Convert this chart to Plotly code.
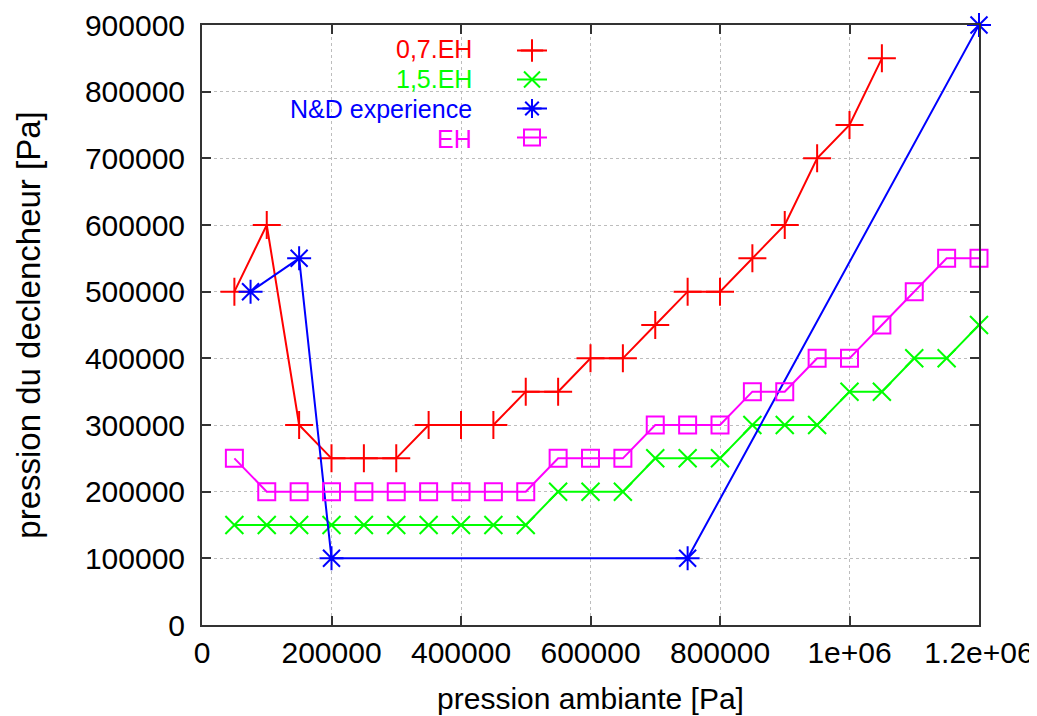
import plotly.graph_objects as go

# ---- data ----
red_x = [50000, 100000, 150000, 200000, 250000, 300000, 350000, 400000, 450000, 500000,
         550000, 600000, 650000, 700000, 750000, 800000, 850000, 900000, 950000, 1000000, 1050000]
red_y = [500000, 600000, 300000, 250000, 250000, 250000, 300000, 300000, 300000, 350000,
         350000, 400000, 400000, 450000, 500000, 500000, 550000, 600000, 700000, 750000, 850000]

green_x = [50000, 100000, 150000, 200000, 250000, 300000, 350000, 400000, 450000, 500000,
           550000, 600000, 650000, 700000, 750000, 800000, 850000, 900000, 950000, 1000000,
           1050000, 1100000, 1150000, 1200000]
green_y = [150000, 150000, 150000, 150000, 150000, 150000, 150000, 150000, 150000, 150000,
           200000, 200000, 200000, 250000, 250000, 250000, 300000, 300000, 300000, 350000,
           350000, 400000, 400000, 450000]

blue_x = [75000, 150000, 200000, 750000, 1200000]
blue_y = [500000, 550000, 100000, 100000, 900000]

mag_x = [50000, 100000, 150000, 200000, 250000, 300000, 350000, 400000, 450000, 500000,
         550000, 600000, 650000, 700000, 750000, 800000, 850000, 900000, 950000, 1000000,
         1050000, 1100000, 1150000, 1200000]
mag_y = [250000, 200000, 200000, 200000, 200000, 200000, 200000, 200000, 200000, 200000,
         250000, 250000, 250000, 300000, 300000, 300000, 350000, 350000, 400000, 400000,
         450000, 500000, 550000, 550000]

series_names = ["0,7.EH", "1,5.EH", "N&D experience", "EH"]
series_colors = ["#ff0000", "#00ff00", "#0000ff", "#ff00ff"]
series_symbols = ["cross-thin-open", "x-thin-open", "asterisk-open", "square-open"]
series_sizes = [20, 18, 20, 17]
series_data = [(red_x, red_y), (green_x, green_y), (blue_x, blue_y), (mag_x, mag_y)]

x_tickvals = [0, 200000, 400000, 600000, 800000, 1000000, 1200000]
x_ticktext = ["0", "200000", "400000", "600000", "800000", "1e+06", "1.2e+06"]
y_tickvals = [0, 100000, 200000, 300000, 400000, 500000, 600000, 700000, 800000, 900000]
y_ticktext = [str(v) for v in y_tickvals]

FONT = "Liberation Sans, Arial, Helvetica, sans-serif"
FS = 30

fig = go.Figure()
for name, col, sym, sz, (xs, ys) in zip(series_names, series_colors, series_symbols,
                                         series_sizes, series_data):
    fig.add_trace(go.Scatter(
        x=xs, y=ys, mode="lines+markers", name=" ",
        line=dict(color=col, width=2),
        marker=dict(symbol=sym, size=sz, color=col, line=dict(color=col, width=2)),
        cliponaxis=False,
    ))

# page body has an 8px margin; figure sized to fit the window
OFF = 8
W, H = 1037 - OFF, 716 - OFF
L, T = 202 - OFF, 25 - OFF
R = W - (979 - OFF)
B = H - (625 - OFF)
pw, ph = W - L - R, H - T - B

def px_x(p):  # p in screenshot pixels
    return (p - OFF - L) / pw

def px_y(p):
    return (H - B - (p - OFF)) / ph

legend_rows = [49, 79, 109, 139]
annotations = []
for name, col, row in zip(series_names, series_colors, legend_rows):
    annotations.append(dict(
        x=px_x(474), y=px_y(row), xref="paper", yref="paper",
        text=name, showarrow=False, xanchor="right", yanchor="middle",
        font=dict(family=FONT, size=25, color=col),
    ))

axis_common = dict(
    showline=True, linecolor="#333333", linewidth=2, mirror="allticks",
    ticks="inside", ticklen=9, tickwidth=2, tickcolor="#333333",
    showgrid=True, gridcolor="#bdbdbd", gridwidth=1, griddash="dot",
    zeroline=False, automargin=False,
    tickfont=dict(family=FONT, size=FS, color="#000000"),
)

fig.update_layout(
    width=W, height=H,
    margin=dict(l=L, r=R, t=T, b=B),
    plot_bgcolor="white", paper_bgcolor="white",
    font=dict(family=FONT, size=FS, color="#000000"),
    showlegend=True,
    legend=dict(
        x=px_x(512), y=px_y(31), xanchor="left", yanchor="top",
        bgcolor="rgba(0,0,0,0)", borderwidth=0,
        font=dict(family=FONT, size=20), tracegroupgap=0,
        itemwidth=30,
    ),
    annotations=annotations,
    xaxis=dict(
        range=[0, 1200000], tickvals=x_tickvals, ticktext=x_ticktext,
        title=dict(text="pression ambiante [Pa]", standoff=20,
                   font=dict(family=FONT, size=FS)),
        **axis_common,
    ),
    yaxis=dict(
        range=[0, 900000], tickvals=y_tickvals, ticktext=y_ticktext,
        ticklabelstandoff=9,
        title=dict(text="pression du declencheur [Pa]", standoff=34,
                   font=dict(family=FONT, size=33)),
        **axis_common,
    ),
)

fig.write_html("out.html")
